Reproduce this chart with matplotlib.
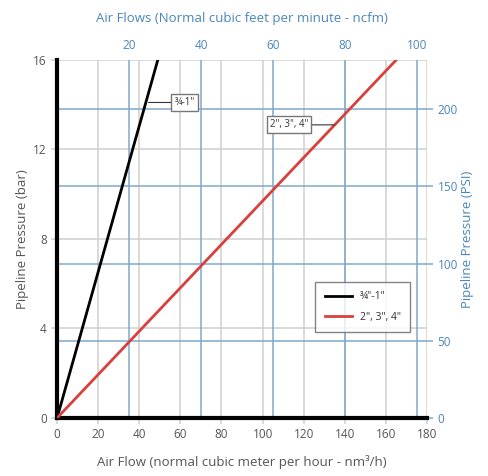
import matplotlib.pyplot as plt

plt.rcParams['font.family'] = ['Open Sans', 'DejaVu Sans']

# data (flow in nm3/h, pressure in bar)
pressure = [0, 16]
flow_small = [0, 49]      # 3/4"-1"
flow_large = [0, 165]     # 2", 3", 4"

flow_ticks = list(range(0, 200, 20))
bar_ticks = [0, 4, 8, 12, 16]
cfm_ticks = [20, 40, 60, 80, 100]
psi_ticks = [0, 50, 100, 150, 200]

M3H_PER_CFM = 1.75
PSI_PER_BAR = 14.5

grey_txt = '#555555'
blue = '#4a86bb'
grey_grid = '#d0d0d0'
blue_grid = '#7fa8cc'

fig = plt.figure(figsize=(4.88, 4.76), dpi=100)
ax = fig.add_axes([0.117, 0.122, 0.758, 0.752])
ax.set_xlim(0, 180)
ax.set_ylim(0, 16)

# grey grid (metric)
for x in flow_ticks[1:]:
    ax.axvline(x, color=grey_grid, lw=1.1, zorder=0)
for y in bar_ticks[1:]:
    ax.axhline(y, color=grey_grid, lw=1.1, zorder=0)
# blue grid (imperial)
for c in cfm_ticks:
    ax.axvline(c * M3H_PER_CFM, color=blue_grid, lw=1.1, zorder=0.5)
for p in psi_ticks[1:]:
    ax.axhline(p / PSI_PER_BAR, color=blue_grid, lw=1.1, zorder=0.5)

ax.plot(flow_small, pressure, color='black', lw=2, label='¾"-1"', zorder=3)
ax.plot(flow_large, pressure, color='#d9403c', lw=2, label='2", 3", 4"', zorder=3)

for s in ['top', 'right']:
    ax.spines[s].set_visible(False)
ax.spines['left'].set_linewidth(3)
ax.spines['bottom'].set_linewidth(3)

ax.set_xticks(flow_ticks)
ax.set_yticks(bar_ticks)
ax.tick_params(colors=grey_grid, labelcolor=grey_txt, labelsize=8.5, length=4, width=1.1)
ax.set_xlabel('Air Flow (normal cubic meter per hour - nm³/h)', color=grey_txt, fontsize=9.5, labelpad=10)
ax.set_ylabel('Pipeline Pressure (bar)', color=grey_txt, fontsize=9.5, labelpad=3)

top = ax.secondary_xaxis('top', functions=(lambda x: x / M3H_PER_CFM, lambda c: c * M3H_PER_CFM))
top.set_xticks(cfm_ticks)
top.tick_params(colors=blue_grid, labelcolor=blue, labelsize=8.5, length=0, pad=6)
top.spines['top'].set_visible(False)
top.set_xlabel('Air Flows (Normal cubic feet per minute - ncfm)', color=blue, fontsize=9.5, labelpad=12)

right = ax.secondary_yaxis('right', functions=(lambda b: b * PSI_PER_BAR, lambda p: p / PSI_PER_BAR))
right.set_yticks(psi_ticks)
right.tick_params(colors=blue_grid, labelcolor=blue, labelsize=8.5, length=4, width=1.1)
right.spines['right'].set_visible(False)
right.set_ylabel('Pipeline Pressure (PSI)', color=blue, fontsize=9.5, labelpad=2)

box = dict(boxstyle='square,pad=0.3', fc='white', ec='#777777', lw=1)
ax.annotate('¾-1"', xy=(44.5, 14.1), xytext=(62, 14.1), fontsize=7, color='#333333',
            ha='center', va='center', bbox=box,
            arrowprops=dict(arrowstyle='-', color='#333333', lw=0.8, shrinkA=0, shrinkB=0))
ax.annotate('2", 3", 4"', xy=(135, 13.1), xytext=(113, 13.1), fontsize=7, color='#333333',
            ha='center', va='center', bbox=box,
            arrowprops=dict(arrowstyle='-', color='#333333', lw=0.8, shrinkA=0, shrinkB=0))

leg = ax.legend(loc='lower right', bbox_to_anchor=(0.955, 0.24), fontsize=7.5, frameon=True,
                fancybox=False, edgecolor='#666666', handlelength=2.6, borderpad=0.9,
                labelspacing=0.9, borderaxespad=0)
leg.get_frame().set_linewidth(1)
for t in leg.get_texts():
    t.set_color('#333333')

fig.savefig('out.png', dpi=100)
